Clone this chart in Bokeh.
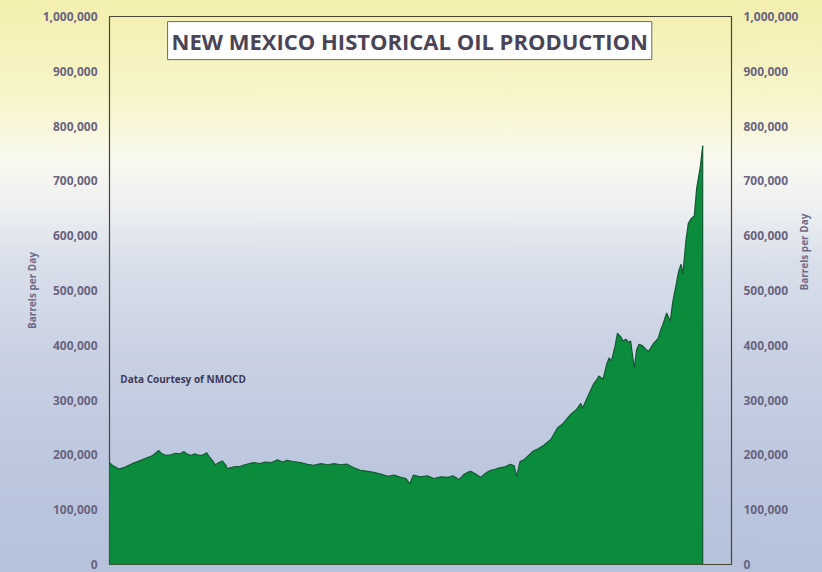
import math
from bokeh.plotting import figure
from bokeh.models import (Range1d, LinearAxis, NumeralTickFormatter, FixedTicker, Label)
from bokeh.embed import file_html
from bokeh.resources import INLINE

# ---- data ----
years = [1970.0, 1970.3, 1970.8, 1971.3, 1972.0, 1972.6, 1973.0, 1973.6, 1974.1, 1974.3,
         1974.7, 1975.1, 1975.5, 1975.9, 1976.2, 1976.5, 1976.8, 1977.1, 1977.3, 1977.7,
         1978.1, 1978.3, 1978.6, 1978.8, 1979.2, 1979.4, 1979.7, 1979.8, 1980.3, 1980.9,
         1981.4, 1982.0, 1982.5, 1983.0, 1983.5, 1984.0, 1984.4, 1984.8, 1985.3, 1985.9,
         1986.5, 1987.0, 1987.6, 1988.2, 1988.7, 1989.25, 1989.8, 1990.3, 1990.9, 1991.5,
         1992.0, 1992.6, 1993.2, 1993.7, 1994.25, 1994.7, 1995.0, 1995.3, 1995.9, 1996.5,
         1997.0, 1997.6, 1998.2, 1998.6, 1999.1, 1999.5, 1999.8, 2000.1, 2000.5, 2000.9,
         2001.4, 2001.75, 2002.0, 2002.4, 2002.9, 2003.4, 2003.7, 2003.9, 2004.2, 2004.5,
         2004.9, 2005.3, 2005.7, 2006.2, 2006.75, 2007.3, 2007.8, 2008.4, 2008.9, 2009.25,
         2009.4, 2009.8, 2010.3, 2010.6, 2010.75, 2011.1, 2011.4, 2011.6, 2011.8, 2012.1,
         2012.3, 2012.6, 2012.75, 2013.0, 2013.25, 2013.4, 2013.7, 2013.9, 2014.1, 2014.4,
         2014.7, 2014.9, 2015.3, 2015.7, 2015.9, 2016.1, 2016.4, 2016.7, 2016.9, 2017.2,
         2017.4, 2017.6, 2017.75, 2018.0, 2018.2, 2018.4, 2018.7, 2018.9, 2019.2, 2019.4]

barrels_k = [186, 180, 174, 178, 185, 190, 194, 199, 208, 203,
             199, 200, 203, 202, 206, 201, 199, 202, 200, 199,
             204, 197, 189, 182, 187, 189, 181, 175, 178, 179,
             183, 186, 184, 187, 186, 191, 187, 190, 188, 186,
             183, 181, 184, 182, 184, 182, 183, 177, 172, 170,
             168, 165, 161, 163, 159, 157, 147, 163, 160, 162,
             157, 160, 159, 162, 155, 164, 168, 170, 165, 159,
             168, 172, 173, 176, 178, 183, 180, 161, 188, 191,
             199, 207, 211, 218, 228, 249, 258, 274, 283, 294,
             285, 305, 329, 338, 344, 338, 365, 377, 371, 398,
             422, 415, 408, 411, 405, 408, 358, 392, 402, 399,
             392, 389, 403, 413, 428, 439, 459, 444, 478, 512,
             535, 548, 530, 590, 622, 630, 636, 687, 725, 764]
barrels = [v * 1000 for v in barrels_k]

y_ticks = [0, 100000, 200000, 300000, 400000, 500000, 600000, 700000, 800000, 900000, 1000000]
title_text = "NEW MEXICO HISTORICAL OIL PRODUCTION"
credit_text = "Data Courtesy of NMOCD"
axis_title = "Barrels per Day"

FONT = "Open Sans"
TICK_COLOR = "#6a6480"

p = figure(width=822, height=572, output_backend="svg", toolbar_location=None,
           x_range=Range1d(1970, 2021.8), y_range=Range1d(0, 1000000),
           x_axis_location=None,
           min_border_left=109, min_border_right=91, min_border_top=16, min_border_bottom=8,
           border_fill_alpha=0, background_fill_alpha=0,
           outline_line_color="#4a4636", outline_line_width=1.2,
           styles={"background": "linear-gradient(to bottom, #f3efae 0%, #f8f6cc 18%, "
                                 "#f9f9f0 28%, #eef0f2 36%, #d9dfea 46%, #c9d1e3 62%, "
                                 "#bcc7de 82%, #b6c2dc 100%)"})
p.grid.visible = False

def style_axis(ax):
    ax.ticker = FixedTicker(ticks=y_ticks)
    ax.formatter = NumeralTickFormatter(format="0,0")
    ax.axis_line_color = None
    ax.major_tick_line_color = None
    ax.minor_tick_line_color = None
    ax.major_tick_out = 0
    ax.major_label_standoff = 12
    ax.major_label_text_font = FONT
    ax.major_label_text_font_style = "bold"
    ax.major_label_text_font_size = "12px"
    ax.major_label_text_color = TICK_COLOR
    ax.axis_label = axis_title
    ax.axis_label_text_font = FONT
    ax.axis_label_text_font_style = "bold"
    ax.axis_label_text_font_size = "10px"
    ax.axis_label_text_color = "#6d6a8a"

style_axis(p.yaxis[0])
p.yaxis[0].axis_label_standoff = 1
right = LinearAxis()
style_axis(right)
right.axis_label_standoff = 3
if "axis_label_orientation" in right.properties():
    right.axis_label_orientation = math.pi / 2
p.add_layout(right, "right")

p.varea(x=years, y1=0, y2=barrels, fill_color="#0a8c3c", fill_alpha=1.0)
p.line(x=years, y=barrels, line_color="#145a34", line_width=1.2)
p.segment(x0=[years[-1]], y0=[barrels[-1]], x1=[years[-1]], y1=[0],
          line_color="#145a34", line_width=1.2)

p.add_layout(Label(x=1995.0, y=956000, text=title_text, text_align="center",
                   text_baseline="middle", text_font=FONT, text_font_size="22px",
                   text_font_style="bold", text_color="#4a4458",
                   background_fill_color="white",
                   border_line_color="#6a6a6a", border_line_width=1, padding=4))
p.add_layout(Label(x=1970.9, y=339000, text=credit_text, text_align="left",
                   text_baseline="middle", text_font=FONT, text_font_size="10px",
                   text_font_style="bold", text_color="#3c3a58"))

open("out.html", "w").write(file_html(p, INLINE))
